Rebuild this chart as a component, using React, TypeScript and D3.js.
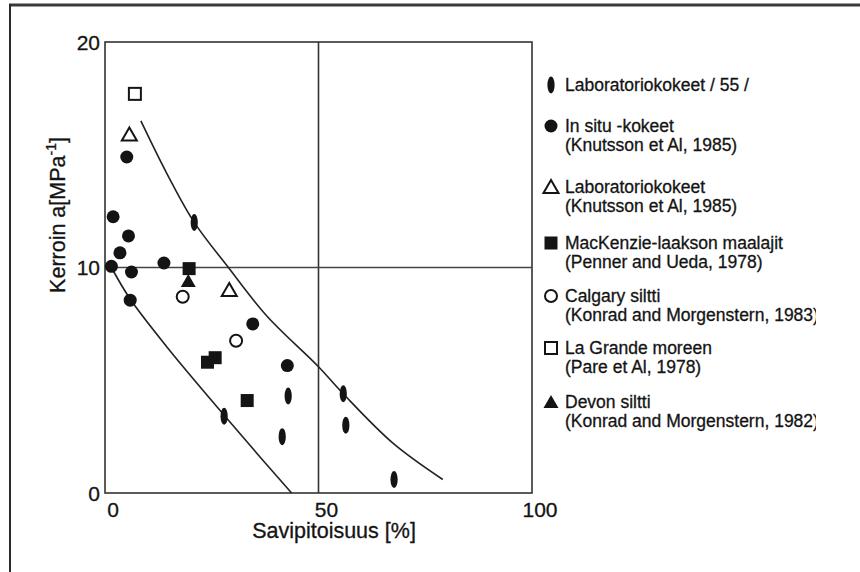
import React from "react";
import * as d3 from "d3";

// ---- data ----
const lab55 = [[20.9, 12.0], [27.9, 3.4], [41.5, 2.5], [42.9, 4.3], [55.8, 4.4], [56.4, 3.0], [67.7, 0.6]];
const inSitu = [[5.1, 14.9], [1.9, 12.25], [5.5, 11.4], [3.5, 10.65], [1.5, 10.05], [6.2, 9.8], [5.9, 8.55], [13.8, 10.2], [34.6, 7.5], [42.7, 5.65]];
const labKnutsson = [[5.7, 15.9], [29.1, 9.0]];
const devon = [[19.5, 9.4]];
const mackenzie = [[19.7, 9.95], [24.0, 5.8], [25.8, 6.0], [33.3, 4.1]];
const calgary = [[18.2, 8.7], [30.7, 6.75]];
const laGrande = [[7.0, 17.7]];
const upperCurve = [[8.4, 16.5], [14.4, 14.2], [20.9, 12.0], [28.9, 10.0], [37.9, 7.85], [50, 5.6], [55.8, 4.4], [67.5, 2.2], [79.1, 0.6]];
const lowerCurve = [[1.5, 10.0], [5.9, 8.6], [14.4, 6.5], [27.9, 3.45], [36.3, 1.6], [43.7, 0]];
const xTicks = [0, 50, 100];
const yTicks = [0, 10, 20];
const legendItems = [
  { sym: "ellipse", l1: "Laboratoriokokeet / 55 /", l2: "" },
  { sym: "circleF", l1: "In situ -kokeet", l2: "(Knutsson et Al, 1985)" },
  { sym: "triO", l1: "Laboratoriokokeet", l2: "(Knutsson et Al, 1985)" },
  { sym: "squareF", l1: "MacKenzie-laakson maalajit", l2: "(Penner and Ueda, 1978)" },
  { sym: "circleO", l1: "Calgary siltti", l2: "(Konrad and Morgenstern, 1983)" },
  { sym: "squareO", l1: "La Grande moreen", l2: "(Pare et Al, 1978)" },
  { sym: "triF", l1: "Devon siltti", l2: "(Konrad and Morgenstern, 1982)" },
];
const legendY = [85, 126, 187, 243, 296, 348, 402];

const INK = "#141414";
const FONT = "'Liberation Sans', Arial, sans-serif";
const TXT = { fill: INK, stroke: INK, strokeWidth: 0.3 };

function Marker({ sym, x, y }: { sym: string; x: number; y: number }) {
  switch (sym) {
    case "ellipse":
      return <ellipse cx={x} cy={y} rx={3.6} ry={8.5} fill={INK} />;
    case "circleF":
      return <circle cx={x} cy={y} r={6.5} fill={INK} />;
    case "circleO":
      return <circle cx={x} cy={y} r={6} fill="white" stroke={INK} strokeWidth={2} />;
    case "squareF":
      return <rect x={x - 6.5} y={y - 6.5} width={13} height={13} fill={INK} />;
    case "squareO":
      return <rect x={x - 6} y={y - 6} width={12} height={12} fill="white" stroke={INK} strokeWidth={2} />;
    case "triO":
      return <path d={`M${x},${y - 7} L${x + 7.5},${y + 6} L${x - 7.5},${y + 6} Z`} fill="white" stroke={INK} strokeWidth={2} />;
    case "triF":
      return <path d={`M${x},${y - 7} L${x + 7.5},${y + 6} L${x - 7.5},${y + 6} Z`} fill={INK} />;
  }
  return null;
}

export default function App() {
  const x = d3.scaleLinear().domain([0, 100]).range([105, 532]);
  const y = d3.scaleLinear().domain([0, 20]).range([493, 42]);
  const line = d3
    .line<number[]>()
    .x((d) => x(d[0]))
    .y((d) => y(d[1]))
    .curve(d3.curveCatmullRom.alpha(0.5));

  const series: [string, number[][]][] = [
    ["ellipse", lab55],
    ["circleF", inSitu],
    ["triO", labKnutsson],
    ["triF", devon],
    ["squareF", mackenzie],
    ["circleO", calgary],
    ["squareO", laGrande],
  ];

  return (
    <svg
      width={860}
      height={572}
      style={{ position: "absolute", left: 0, top: 0, background: "white" }}
      fontFamily={FONT}
    >
      <defs>
        <clipPath id="legclip">
          <rect x={530} y={0} width={286} height={572} />
        </clipPath>
      </defs>
      {/* outer frame */}
      <line x1={9} x2={860} y1={5} y2={5} stroke="#3a3a3a" strokeWidth={3} />
      <line x1={10} x2={10} y1={4} y2={572} stroke="#2a2a2a" strokeWidth={2} />

      {/* plot box */}
      <rect x={x(0)} y={y(20)} width={x(100) - x(0)} height={y(0) - y(20)} fill="none" stroke="#333" strokeWidth={1.6} />
      <line x1={x(50)} x2={x(50)} y1={y(0)} y2={y(20)} stroke="#333" strokeWidth={1.6} />
      <line x1={x(0)} x2={x(100)} y1={y(10)} y2={y(10)} stroke="#444" strokeWidth={1.4} />

      {/* ticks labels */}
      {yTicks.map((t) => (
        <text key={"y" + t} x={100} y={y(t) + 7.5} textAnchor="end" fontSize={21} {...TXT}>
          {t}
        </text>
      ))}
      {xTicks.map((t) => (
        <text key={"x" + t} x={x(t) + 8} y={517} textAnchor="middle" fontSize={21} {...TXT}>
          {t}
        </text>
      ))}
      <text x={334} y={538} textAnchor="middle" fontSize={21.5} {...TXT}>
        Savipitoisuus [%]
      </text>
      <text transform="translate(65,215) rotate(-90)" textAnchor="middle" fontSize={21.5} {...TXT}>
        Kerroin a[MPa
        <tspan fontSize={14} dy={-9}>-1</tspan>
        <tspan dy={9}>]</tspan>
      </text>

      {/* curves */}
      <path d={line(upperCurve) || ""} fill="none" stroke="#222" strokeWidth={1.6} />
      <path d={line(lowerCurve) || ""} fill="none" stroke="#222" strokeWidth={1.6} />

      {/* points */}
      {series.map(([sym, pts]) =>
        pts.map((p, i) => <Marker key={sym + i} sym={sym} x={x(p[0])} y={y(p[1])} />)
      )}

      {/* legend */}
      <g clipPath="url(#legclip)">
        {legendItems.map((it, i) => (
          <g key={i}>
            <Marker sym={it.sym} x={551} y={legendY[i]} />
            <text x={565} y={legendY[i] + 6} fontSize={17.5} {...TXT}>
              {it.l1}
            </text>
            {it.l2 && (
              <text x={565} y={legendY[i] + 24.5} fontSize={17.5} {...TXT}>
                {it.l2}
              </text>
            )}
          </g>
        ))}
      </g>
    </svg>
  );
}
